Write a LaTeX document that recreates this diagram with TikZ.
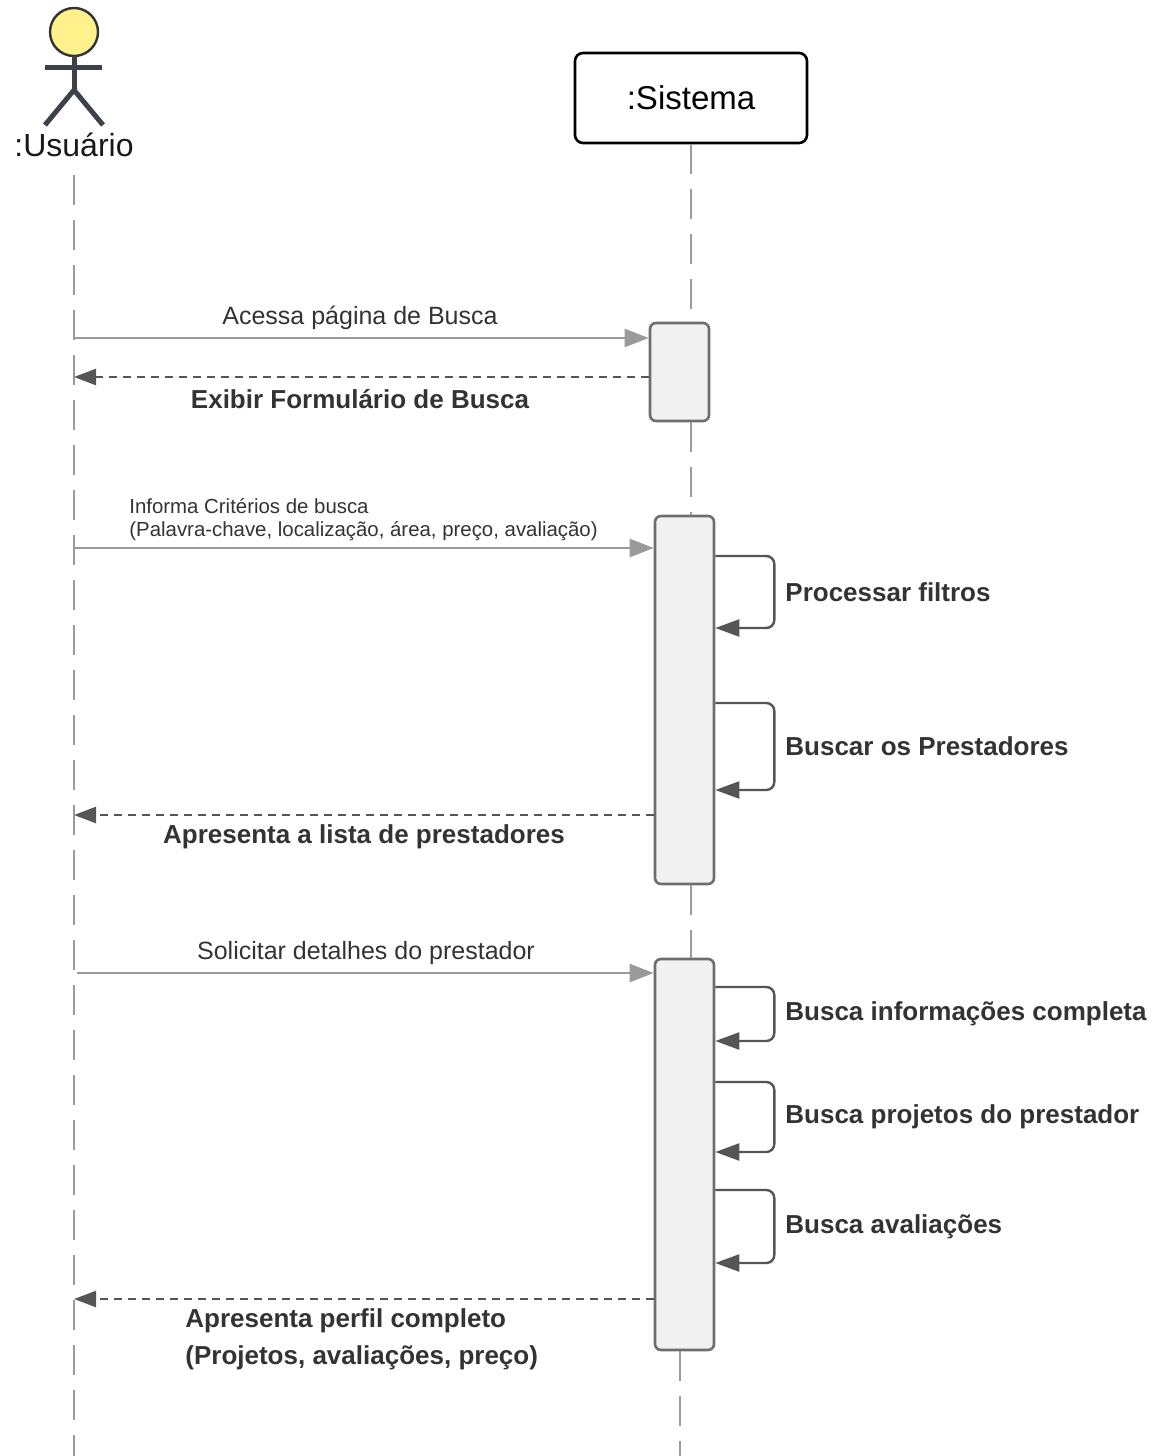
\documentclass[tikz,border=0pt]{standalone}
\usepackage{fontspec}
\setmainfont{Liberation Sans}
\usetikzlibrary{arrows.meta}
\definecolor{lifegray}{HTML}{9B9B9B}
\definecolor{msggray}{HTML}{9A9A9A}
\definecolor{replygray}{HTML}{555555}
\definecolor{bargray}{HTML}{6E6E6E}
\definecolor{barfill}{HTML}{F1F1F1}
\definecolor{txtgray}{HTML}{333333}
\definecolor{actorgray}{HTML}{3D4149}
\definecolor{headyellow}{HTML}{FFF28C}
\newcommand\selfcall[5]{\draw[selfmsg] (#1.east |- 0,#2) -- ++(59,0) |- (#1.east |- 0,#3);
	\node[boldlbl, anchor=west] (#4) at (785,{(#2+#3)/2}) {#5};}

\begin{document}
\begin{tikzpicture}[x=0.5pt, y=-0.5pt,
	lifeline/.style={draw=lifegray, line width=1pt, dash pattern=on 15pt off 7.5pt},
	actbar/.style={draw=bargray, fill=barfill, line width=1.3pt, rounded corners=3pt, minimum width=29.5pt, inner sep=0pt},
	callmsg/.style={draw=msggray, line width=1.2pt, -{Triangle[length=12pt,width=9pt]}},
	replymsg/.style={draw=replygray, line width=1.2pt, dash pattern=on 4pt off 3pt, -{Triangle[length=11pt,width=8pt]}},
	selfmsg/.style={draw=replygray, line width=1.2pt, rounded corners=4pt, -{Triangle[length=12pt,width=8.5pt]}},
	lbl/.style={text=txtgray, font=\fontsize{12.5}{15}\selectfont, inner sep=0pt},
	boldlbl/.style={text=txtgray, font=\bfseries\fontsize{13}{16}\selectfont, inner sep=0pt},
	]
		%%%%% START %%%%%
		\useasboundingbox (0,0) rectangle (1161,1456);
		
		% actor
		\draw[line width=1.2pt, draw=txtgray, fill=headyellow] (74,32) circle [radius=12pt];
		\draw[line width=2.5pt, color=actorgray] (74,56) -- (74,90);
		\draw[line width=2.5pt, color=actorgray] (45,67) -- (102,67);
		\draw[line width=2.5pt, color=actorgray] (45,125) -- (74,90) -- (103,125);
		\node[text=black!90, font=\fontsize{16}{19}\selectfont, inner sep=0pt] (usr) at (74,145) {:Usuário};
		
		% system head
		\node[draw=black, line width=1.3pt, rounded corners=4pt, minimum width=116pt, minimum height=45pt,
			font=\fontsize{16.5}{20}\selectfont] (sis) at (691,98) {:Sistema};
		
		% lifelines
		\coordinate (usrtop) at (74,175);
		\coordinate (usrend) at (74,1456);
		\coordinate (sisend) at (680,1456);
		\draw[lifeline] (usrtop) -- (usrend);
		
		\node[actbar, minimum height=49pt] (act1) at (679.5,372) {};
		\node[actbar, minimum height=184pt] (act2) at (684.5,700) {};
		\node[actbar, minimum height=195.5pt] (act3) at (684.5,1154.5) {};
		
		\draw[lifeline] (sis.south) -- (sis.south |- act1.north);
		\draw[lifeline] (sis.south |- act1.south) -- (sis.south |- act2.north);
		\draw[lifeline] (sis.south |- act2.south) -- (sis.south |- act3.north);
		\draw[lifeline] (act3.south -| sisend) -- (sisend);
		
		% search page
		\coordinate (m1) at (74,338);
		\draw[callmsg] (m1) -- (act1.west |- m1);
		\node[lbl] (m1l) at (360,318) {Acessa página de Busca};
		
		\coordinate (r1) at (74,377);
		\draw[replymsg] (act1.west |- r1) -- (r1);
		\node[boldlbl] (r1l) at (360,399) {Exibir Formulário de Busca};
		
		% criteria
		\coordinate (m2) at (74,548);
		\draw[callmsg] (m2) -- (act2.west |- m2);
		\node[text=txtgray, font=\fontsize{10.2}{11.5}\selectfont, inner sep=0pt, align=left, anchor=west] (m2l)
			at (129,519.5) {Informa Critérios de busca\\(Palavra-chave, localização, área, preço, avaliação)};
		
		\selfcall{act2}{556}{628}{s1l}{Processar filtros}
		\selfcall{act2}{703}{790}{s2l}{Buscar os Prestadores}
		
		\coordinate (r2) at (74,815);
		\draw[replymsg] (act2.west |- r2) -- (r2);
		\node[boldlbl] (r2l) at (364,837) {Apresenta a lista de prestadores};
		
		% details
		\coordinate (m3) at (77,973);
		\draw[callmsg] (m3) -- (act3.west |- m3);
		\node[lbl] (m3l) at (366,953) {Solicitar detalhes do prestador};
		
		\selfcall{act3}{987}{1041}{s3l}{Busca informações completa}
		\selfcall{act3}{1082}{1152}{s4l}{Busca projetos do prestador}
		\selfcall{act3}{1190}{1263}{s5l}{Busca avaliações}
		
		\coordinate (r3) at (74,1299);
		\draw[replymsg] (act3.west |- r3) -- (r3);
		\node[boldlbl, align=left, anchor=west, font=\bfseries\fontsize{13}{18.5}\selectfont] (r3l)
			at (185,1339.5) {Apresenta perfil completo\\(Projetos, avaliações, preço)};
		
		%%%%% END %%%%%
	\end{tikzpicture}
\end{document}
